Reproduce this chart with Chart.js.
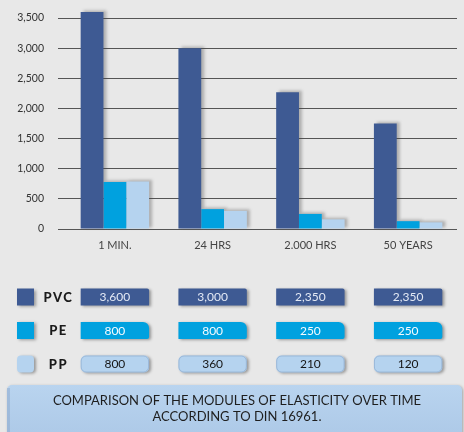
<!DOCTYPE html>
<html>
<head>
<meta charset="utf-8">
<script src="https://cdn.jsdelivr.net/npm/chart.js@4/dist/chart.umd.min.js"></script>
<style>
  html, body { margin: 0; padding: 0; background: #e8e8e8; }
  #wrap { width: 464px; height: 432px; }
</style>
</head>
<body>
<div id="wrap"><canvas id="c" width="464" height="432"></canvas></div>
<script>
// Modulus of elasticity (N/mm²) over load duration
const categories = ['1 MIN.', '24 HRS', '2.000 HRS', '50 YEARS'];
const seriesNames = ['PVC', 'PE', 'PP'];
const pvcValues = [3600, 3000, 2270, 1750];
const peValues = [780, 330, 250, 130];
const ppValues = [790, 300, 160, 110];
const yTickValues = [0, 500, 1000, 1500, 2000, 2500, 3000, 3500];

// Printed table under the chart
const pvcTable = ['3,600', '3,000', '2,350', '2,350'];
const peTable = ['800', '800', '250', '250'];
const ppTable = ['800', '360', '210', '120'];
const captionLines = ['COMPARISON OF THE MODULES OF ELASTICITY OVER TIME', 'ACCORDING TO DIN 16961.'];

const COLORS = { PVC: '#3e5a93', PE: '#00a1df', PP: '#b5d3ef' };
const FONT = 'Lato, "Open Sans", sans-serif';

// grey drop shadow behind each bar, painted before the bars themselves
const barShadow = {
  id: 'barShadow',
  beforeDatasetsDraw(chart) {
    const ctx = chart.ctx;
    ctx.save();
    ctx.fillStyle = 'rgba(70,70,70,0.35)';
    ctx.filter = 'blur(1.5px)';
    chart.data.datasets.forEach((ds, i) => {
      chart.getDatasetMeta(i).data.forEach(el => {
        const w = el.width;
        ctx.fillRect(el.x - w / 2 + 3, el.y - 1.5, w, el.base - el.y + 0.5);
      });
    });
    ctx.restore();
  }
};

function box(ctx, x, y, w, h, radii, fill, shadow) {
  ctx.save();
  if (shadow) {
    ctx.shadowColor = 'rgba(0,0,0,0.35)';
    ctx.shadowOffsetX = 2;
    ctx.shadowOffsetY = 1;
    ctx.shadowBlur = 3;
  }
  ctx.fillStyle = fill;
  ctx.beginPath();
  ctx.roundRect(x, y, w, h, radii);
  ctx.fill();
  ctx.restore();
}

// data table and caption drawn beneath the plot, columns aligned to the bar groups
const tablePlugin = {
  id: 'tablePlugin',
  afterDraw(chart) {
    const ctx = chart.ctx;
    const rows = [
      { name: 'PVC', cells: pvcTable, cy: 297, fill: COLORS.PVC, text: '#e3e9f5', radii: [0, 2, 0, 0] },
      { name: 'PE', cells: peTable, cy: 330.5, fill: COLORS.PE, text: '#f4fbff', radii: [0, 6, 2, 0] },
      { name: 'PP', cells: ppTable, cy: 364, fill: COLORS.PP, text: '#151515', radii: 5 }
    ];
    const first = chart.getDatasetMeta(0).data;
    const last = chart.getDatasetMeta(2).data;
    const h = 17;

    rows.forEach((row, r) => {
      // legend swatch
      box(ctx, 17, row.cy - 8.5, 17, 17, r === 2 ? 4 : 0, row.fill, true);
      ctx.save();
      ctx.font = '900 13px ' + FONT;
      ctx.letterSpacing = '1.5px';
      ctx.fillStyle = '#1a1a1a';
      ctx.textAlign = 'center';
      ctx.textBaseline = 'middle';
      ctx.fillText(row.name, 58.5, row.cy + 0.5);
      ctx.restore();

      row.cells.forEach((txt, i) => {
        const left = first[i].x - first[i].width / 2;
        const right = last[i].x + last[i].width / 2;
        box(ctx, left, row.cy - h / 2, right - left, h, row.radii, row.fill, true);
        if (r === 2) {
          ctx.save();
          ctx.strokeStyle = 'rgba(120,150,190,0.45)';
          ctx.lineWidth = 1;
          ctx.beginPath();
          ctx.roundRect(left + 0.5, row.cy - h / 2 + 0.5, right - left - 1, h - 1, 5);
          ctx.stroke();
          ctx.restore();
        }
        ctx.save();
        ctx.font = '12px ' + FONT;
        ctx.fillStyle = row.text;
        ctx.textAlign = 'center';
        ctx.textBaseline = 'middle';
        ctx.fillText(txt, (left + right) / 2, row.cy + 0.5);
        ctx.restore();
      });
    });

    // caption panel
    ctx.save();
    ctx.shadowColor = 'rgba(0,0,0,0.3)';
    ctx.shadowOffsetX = 1;
    ctx.shadowOffsetY = 1;
    ctx.shadowBlur = 3;
    const g = ctx.createLinearGradient(0, 385, 0, 432);
    g.addColorStop(0, '#b9d4ef');
    g.addColorStop(1, '#aecae8');
    ctx.fillStyle = g;
    ctx.beginPath();
    ctx.roundRect(7, 385, 455, 52, 5);
    ctx.fill();
    ctx.restore();
    ctx.save();
    ctx.fillStyle = 'rgba(120,150,190,0.35)';
    ctx.fillRect(7, 388, 3, 44);
    ctx.font = '13px ' + FONT;
    ctx.fillStyle = '#1e1e1e';
    ctx.textAlign = 'center';
    ctx.textBaseline = 'middle';
    ctx.fillText(captionLines[0], 237, 401);
    ctx.fillText(captionLines[1], 237, 417);
    ctx.restore();
  }
};

new Chart(document.getElementById('c'), {
  type: 'bar',
  data: {
    labels: categories,
    datasets: [
      { label: seriesNames[0], data: pvcValues, backgroundColor: COLORS.PVC },
      { label: seriesNames[1], data: peValues, backgroundColor: COLORS.PE },
      { label: seriesNames[2], data: ppValues, backgroundColor: COLORS.PP }
    ]
  },
  options: {
    responsive: false,
    animation: false,
    devicePixelRatio: 1,
    layout: { padding: { left: 0, right: 7, top: 0, bottom: 179 } },
    datasets: { bar: { categoryPercentage: 0.7, barPercentage: 1.0, borderWidth: 0 } },
    plugins: { legend: { display: false }, tooltip: { enabled: false } },
    scales: {
      x: {
        grid: { display: false, drawTicks: false },
        border: { display: false },
        ticks: { padding: 10, color: '#444', font: { family: FONT, size: 11 } },
        afterFit(s) { s.height = 24; s.paddingLeft = 0; s.paddingRight = 0; }
      },
      y: {
        min: 0,
        max: 3800,
        afterBuildTicks(s) { s.ticks = yTickValues.map(v => ({ value: v })); },
        ticks: {
          padding: 14,
          color: '#333',
          font: { family: FONT, size: 10.5 },
          callback: v => v.toLocaleString('en-US')
        },
        grid: { color: '#555', lineWidth: 1, tickLength: 8 },
        border: { display: false },
        afterFit(s) { s.width = 66; s.paddingTop = 0; s.paddingBottom = 0; }
      }
    }
  },
  plugins: [barShadow, tablePlugin]
});
</script>
</body>
</html>
